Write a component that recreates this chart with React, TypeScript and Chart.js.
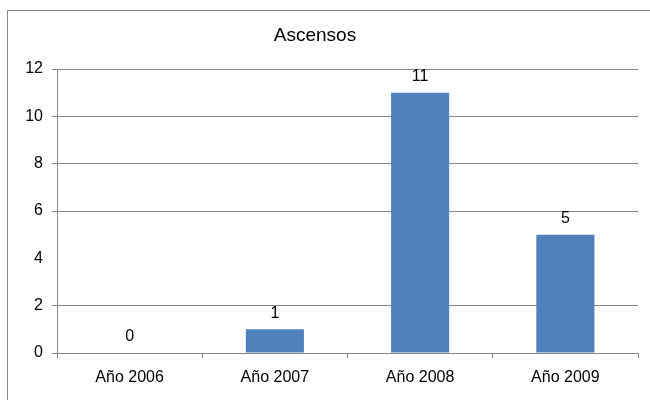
import React, { useEffect, useRef } from "react";
import { Chart, registerables } from "chart.js";

Chart.register(...registerables);

const categories = ["Año 2006", "Año 2007", "Año 2008", "Año 2009"];
const values = [0, 1, 11, 5];
const yTicks = [0, 2, 4, 6, 8, 10, 12];
const titleText = "Ascensos";

const FONT = "'Liberation Sans', Arial, sans-serif";
const GRID = "#868686";

const dataLabels = {
  id: "dataLabels",
  afterDatasetsDraw(chart: any) {
    const ctx = chart.ctx;
    const meta = chart.getDatasetMeta(0);
    ctx.save();
    ctx.font = `16px ${FONT}`;
    ctx.fillStyle = "#000";
    ctx.textAlign = "center";
    ctx.textBaseline = "middle";
    meta.data.forEach((el: any, i: number) => {
      ctx.fillText(String(values[i]), el.x, el.y - 16);
    });
    ctx.restore();
  },
};

export default function App() {
  const ref = useRef<HTMLCanvasElement | null>(null);
  useEffect(() => {
    if (!ref.current) return;
    const chart = new Chart(ref.current, {
      type: "bar",
      data: {
        labels: categories,
        datasets: [
          {
            data: values,
            backgroundColor: "#4F81BD",
            borderWidth: 0,
            categoryPercentage: 1,
            barPercentage: 0.4,
          },
        ],
      },
      options: {
        animation: false,
        responsive: false,
        layout: { padding: { left: 0, top: 69, right: 12, bottom: 0 } },
        plugins: {
          legend: { display: false },
          tooltip: { enabled: false },
          title: { display: false },
        },
        scales: {
          x: {
            offset: true,
            grid: {
              offset: true,
              drawOnChartArea: false,
              drawTicks: true,
              tickLength: 5,
              color: GRID,
            },
            border: { display: true, color: GRID },
            ticks: {
              color: "#000",
              font: { family: FONT, size: 16 },
              padding: 10,
              maxRotation: 0,
            },
            afterFit(scale: any) {
              scale.height = 47;
            },
          },
          y: {
            min: yTicks[0],
            max: yTicks[yTicks.length - 1],
            afterBuildTicks(scale: any) {
              scale.ticks = yTicks.map((v) => ({ value: v }));
            },
            grid: {
              color: (c: any) => (c.tick && c.tick.value === 4 ? "rgba(0,0,0,0)" : GRID),
              tickLength: 5,
              drawTicks: true,
            },
            border: { display: true, color: GRID },
            ticks: {
              color: "#000",
              font: { family: FONT, size: 16 },
              padding: 9,
            },
            afterFit(scale: any) {
              scale.width = 57;
            },
          },
        },
      },
      plugins: [dataLabels],
    });
    return () => chart.destroy();
  }, []);

  return (
    <div
      style={{
        position: "absolute",
        left: 0,
        top: 0,
        width: 650,
        height: 400,
        overflow: "hidden",
        background: "#fff",
      }}
    >
      <div
        style={{
          position: "absolute",
          left: 7,
          top: 10,
          width: 700,
          height: 450,
          border: "1px solid #888",
          boxSizing: "border-box",
        }}
      />
      <canvas
        ref={ref}
        width={650}
        height={400}
        style={{ position: "absolute", left: 0, top: 0, width: 650, height: 400 }}
      />
      <div
        style={{
          position: "absolute",
          left: 0,
          top: 24,
          width: 630,
          textAlign: "center",
          fontFamily: FONT,
          fontSize: 19,
          lineHeight: "22px",
          color: "#000",
        }}
      >
        {titleText}
      </div>
    </div>
  );
}
